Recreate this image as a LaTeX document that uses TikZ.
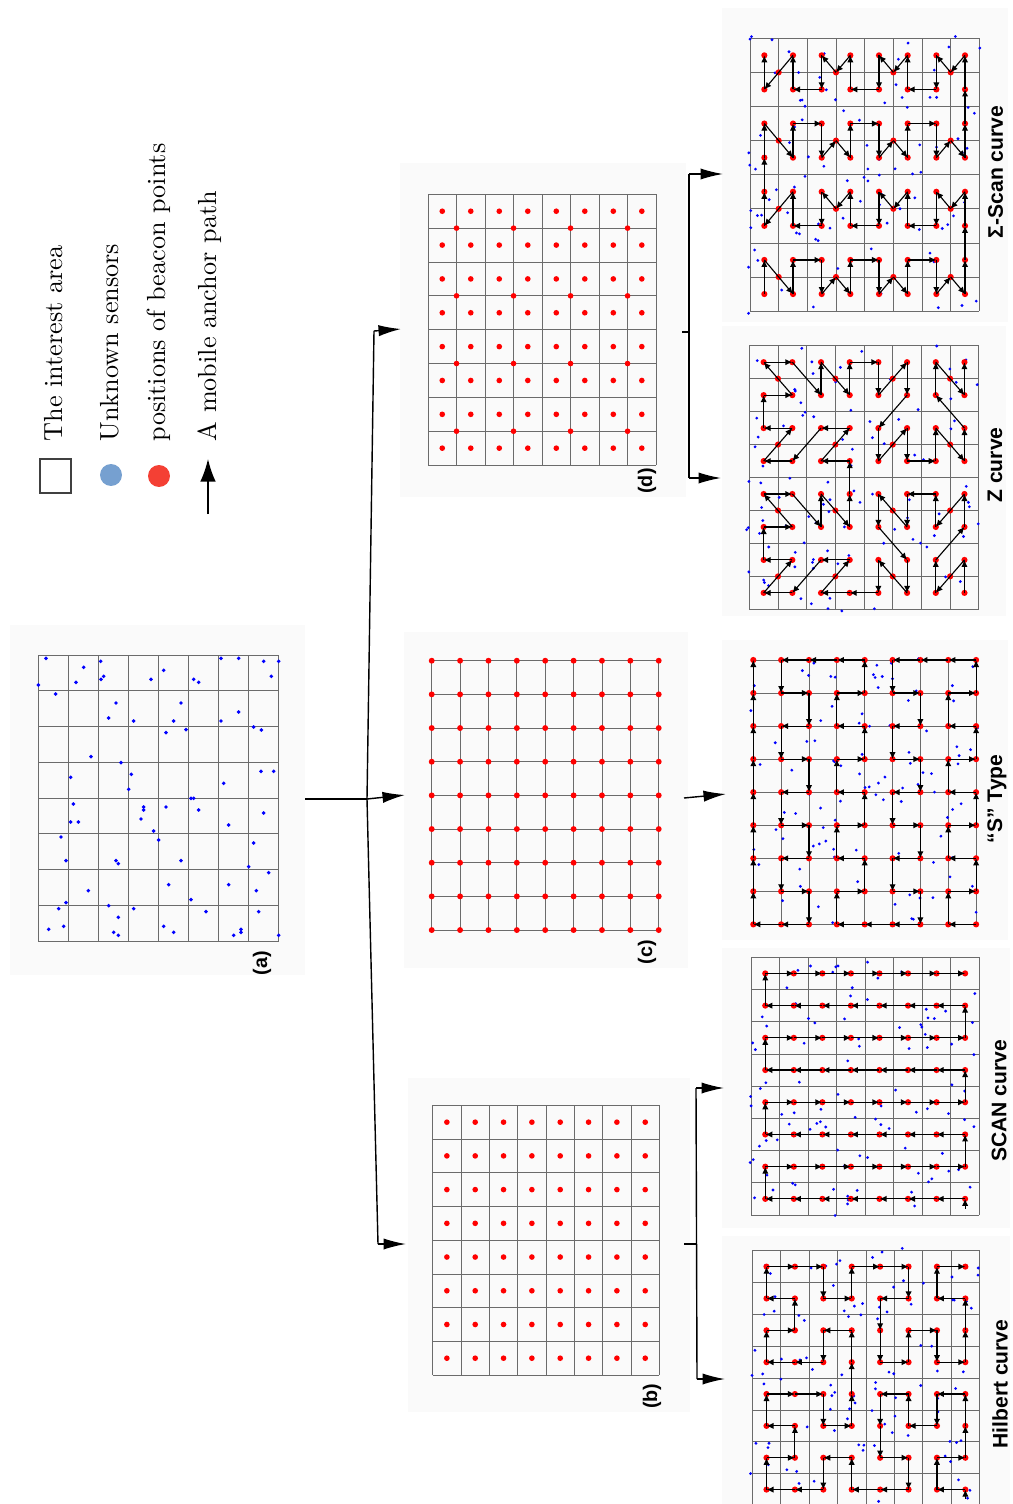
\documentclass[tikz,border=0pt]{standalone}
\usepackage{fontspec}
\newfontfamily\hv{Liberation Sans}
\newfontfamily\legfont{lmroman10-regular.otf}
\usetikzlibrary{arrows.meta}

\definecolor{sensorblue}{RGB}{0,0,255}
\definecolor{beaconred}{RGB}{255,0,0}
\definecolor{legblue}{RGB}{118,160,208}
\definecolor{legred}{RGB}{244,64,52}

\tikzset{
  pnl/.style n args={4}{shift={(#1,#2)},x=#3,y=#4},
  gridline/.style={black!58,line width=0.55pt},
  panelbg/.style={fill=black!2},
  sensor/.style={fill=sensorblue},
  beacon/.style={fill=beaconred},
  hop/.style={-{Latex[length=5pt,width=4.5pt]},line width=0.8pt},
  wire/.style={line width=1pt},
  feed/.style={wire,-{Latex[length=16pt,width=8pt]}},
  legtext/.style={rotate=90,anchor=base west,inner sep=0pt,font=\legfont\fontsize{18.6}{20}\selectfont},
  curvelbl/.style={rotate=90,inner sep=0pt,font=\hv\bfseries\fontsize{15}{18}\selectfont},
  sublbl/.style={rotate=90,inner sep=0pt,font=\hv\bfseries\fontsize{14}{16}\selectfont},
}

% 8x8 cells of the interest area
\newcommand{\cells}{\foreach \i in {0,...,8} {\draw[gridline] (\i,0) -- (\i,8); \draw[gridline] (0,\i) -- (8,\i);}}
\newcommand{\centerdots}[1]{\foreach \i in {0,...,7} \foreach \j in {0,...,7} \fill[beacon] (\i+0.5,\j+0.5) circle (#1);}
\newcommand{\crossdots}[1]{\foreach \i in {1,3,5,7} \foreach \j in {1,3,5,7} \fill[beacon] (\i,\j) circle (#1);}
\newcommand{\scatter}[1]{\foreach \k in {1,...,#1} \fill[sensor] ({-0.1+8.2*rnd},{-0.1+8.2*rnd}) circle (1.1pt);}
% anchor path: start x, start y, offset, list of stops
\newcommand{\hops}[4]{\foreach \px/\py [remember=\px as \qx (initially #1), remember=\py as \qy (initially #2)] in {#4}
  {\draw[hop] (\qx+#3,\qy+#3) -- (\px+#3,\py+#3);}}

\begin{document}
\begin{tikzpicture}[x=0.025cm,y=-0.025cm]
\useasboundingbox (0,0) rectangle (1012,1504);
\fill[white] (0,0) rectangle (1012,1504);

% faint panel backgrounds
\fill[panelbg] (10,625) rectangle (305,975);
\fill[panelbg] (400,163) rectangle (686,497);
\fill[panelbg] (404,632) rectangle (688,968);
\fill[panelbg] (408,1078) rectangle (690,1412);
\fill[panelbg] (722,8) rectangle (1008,322);
\fill[panelbg] (722,326) rectangle (1006,616);
\fill[panelbg] (722,640) rectangle (1008,940);
\fill[panelbg] (722,948) rectangle (1010,1228);
\fill[panelbg] (722,1236) rectangle (1010,1504);

% legend
\draw[line width=0.8pt,black!75] (40,459) rectangle (71,493);
\fill[legblue] (111,475) circle (7.8pt);
\fill[legred] (159,476) circle (7.8pt);
\coordinate (legTail) at (208,514);
\coordinate (legTip) at (208,459);
\draw[wire,-{Latex[length=16pt,width=11pt]}] (legTail) -- (legTip);
\node[legtext] (legArea) at (62.7,441.5) {The interest area};
\node[legtext] (legSensor) at (118.3,441.5) {Unknown sensors};
\node[legtext] (legBeacon) at (165,441.5) {positions of beacon points};
\node[legtext] (legPath) at (216,441.5) {A mobile anchor path};

% (a) sensors in the interest area
\begin{scope}[pnl={38.3}{655}{0.75125cm}{-0.89375cm}]
  \cells
\end{scope}
\foreach \sx/\sy in {46/658.3, 38.3/685, 55.7/694, 76/682.3, 83.7/667.3, 100.7/661.3, 101/679.3,
  103.7/676.3, 116/703, 108.7/718, 133.7/721, 151/679.3, 163.7/670.3, 181/703, 173.7/721, 166/732.7,
  186/729.7, 193.7/679.3, 198.7/682.3, 221/658.3, 238.7/658.3, 263.7/661.3, 278.7/661.3, 271.3/676.3,
  238.7/712, 221/721, 253.7/727, 261.3/730, 91/756.7, 121/762.7, 131.3/774.3, 70.7/777.3, 128.7/789.3,
  261/771.3, 273.7/771.3, 223.7/783.3, 73.3/804, 70.7/822, 78.3/822, 143.7/807, 143.7/810, 141/819,
  166/807, 191/798.3, 193.7/798.3, 198.7/810, 263.7/813, 228.7/825, 153.7/831, 61/837, 158.7/840,
  253.7/843, 66/860.7, 116/860.7, 118.3/863.7, 181/860.7, 248.7/866.7, 268.7/872.7, 88.3/890.7,
  168.7/884.7, 228.7/884.7, 256.3/890.7, 66/902.7, 58.7/908.7, 108.7/905.7, 133.7/908.7, 191/899.7,
  206/911.7, 258.7/911.7, 48.7/929.3, 63.7/926.3, 118.3/917.3, 113.7/932.3, 118.3/935.3, 163.7/926.3,
  173.7/932.3, 241/929.3, 241/932.3, 233.7/935.3, 278.7/935.3}
  \fill[sensor] (\sx,\sy) circle (1.4pt);
\node[sublbl] (lblA) at (262,963) {(a)};

% (d) centres plus crossings
\begin{scope}[pnl={428}{194.3}{0.7125cm}{-0.846cm}]
  \cells
  \centerdots{2pt}
  \crossdots{2pt}
\end{scope}
\node[sublbl] (lblD) at (647,481) {(d)};

% (c) crossings
\begin{scope}[pnl={431.7}{660.7}{0.70925cm}{-0.8415cm}]
  \cells
  \foreach \i in {0,...,8} \foreach \j in {0,...,8} \fill[beacon] (\i,\j) circle (2.1pt);
\end{scope}
\node[sublbl] (lblC) at (647,952) {(c)};

% (b) centres
\begin{scope}[pnl={432.7}{1105.3}{0.70825cm}{-0.84275cm}]
  \cells
  \centerdots{2pt}
\end{scope}
\node[sublbl] (lblB) at (652,1396) {(b)};

% (a) -> (b), (c), (d)
\coordinate (aOut) at (305,799);
\coordinate (jn) at (367,799);
\coordinate (jnTop) at (374,331);
\coordinate (jnBot) at (378,1244);
\coordinate (dIn) at (401,329);
\coordinate (cIn) at (405,795);
\coordinate (bIn) at (406,1244);
\draw[wire] (aOut) -- (jn);
\draw[wire] (jnTop) -- (jn) -- (jnBot);
\draw[feed] (jnTop) -- (dIn);
\draw[feed] (jn) -- (cIn);
\draw[feed] (jnBot) -- (bIn);

% (d) -> Sigma-Scan, Z
\coordinate (dOut) at (682,332);
\coordinate (dFork) at (689,332);
\coordinate (dForkTop) at (689,174);
\coordinate (dForkBot) at (689,478);
\coordinate (sigmaIn) at (723,174);
\coordinate (zIn) at (721,478);
\draw[wire] (dOut) -- (dFork);
\draw[wire] (dForkTop) -- (dForkBot);
\draw[feed] (dForkTop) -- (sigmaIn);
\draw[feed] (dForkBot) -- (zIn);

% (c) -> S type
\coordinate (cOut) at (684,798);
\coordinate (sIn) at (726,794);
\draw[feed] (cOut) -- (sIn);

% (b) -> SCAN, Hilbert
\coordinate (bOut) at (684,1244);
\coordinate (bFork) at (696,1244);
\coordinate (bForkTop) at (696,1088);
\coordinate (bForkBot) at (697,1379);
\coordinate (scanIn) at (724,1088);
\coordinate (hilbIn) at (725,1379);
\draw[wire] (bOut) -- (bFork);
\draw[wire] (bForkTop) -- (bForkBot);
\draw[feed] (bForkTop) -- (scanIn);
\draw[feed] (bForkBot) -- (hilbIn);

% Sigma-Scan curve
\begin{scope}[pnl={750}{38.3}{0.7165cm}{-0.85225cm}]
  \cells
  \pgfmathsetseed{11}
  \scatter{95}
  \centerdots{2.2pt}
  \crossdots{2.2pt}
  \hops{0.5}{7.5}{0}{0.5/6.5, 1.5/7.5, 1.5/6.5, 2.5/6.5, 2.5/7.5, 3/7, 3.5/7.5, 3.5/6.5, 4.5/6.5,
    4.5/7.5, 5/7, 5.5/7.5, 5.5/6.5, 6.5/6.5, 6.5/7.5, 7/7, 7.5/7.5, 7.5/6.5, 7.5/5.5, 7.5/4.5, 7/5,
    6.5/4.5, 6.5/5.5, 5.5/5.5, 5.5/4.5, 5/5, 4.5/4.5, 4.5/5.5, 3.5/5.5, 3.5/4.5, 3/5, 2.5/4.5,
    2.5/5.5, 1.5/5.5, 1.5/4.5, 0.5/5.5, 0.5/4.5, 0.5/3.5, 0.5/2.5, 1.5/3.5, 1.5/2.5, 2.5/2.5,
    2.5/3.5, 3/3, 3.5/3.5, 3.5/2.5, 4.5/2.5, 4.5/3.5, 5/3, 5.5/3.5, 5.5/2.5, 6.5/2.5, 6.5/3.5, 7/3,
    7.5/3.5, 7.5/2.5, 7.5/1.5, 7.5/0.5, 7/1, 6.5/0.5, 6.5/1.5, 5.5/1.5, 5.5/0.5, 5/1, 4.5/0.5,
    4.5/1.5, 3.5/1.5, 3.5/0.5, 3/1, 2.5/0.5, 2.5/1.5, 1.5/1.5, 1.5/0.5, 0.5/1.5, 0.5/0.5}
\end{scope}
\node[curvelbl] (lblSigma) at (995.5,172) {Σ-Scan curve};

% Z curve
\begin{scope}[pnl={749.3}{345.7}{0.717cm}{-0.82375cm}]
  \cells
  \pgfmathsetseed{23}
  \scatter{95}
  \centerdots{2.2pt}
  \crossdots{2.2pt}
  \hops{7}{7}{0.5}{7/6, 6/7, 6/6, 7/5, 7/4, 6/5, 6/4, 5/4, 5/5, 4/4, 4/5, 5/6, 5/7, 4/6, 4/7, 3/7,
    2/7, 3/6, 2/6, 1/7, 0/7, 1/6, 0/6, 0/5, 1/5, 0/4, 1/4, 2/5, 2/4, 3/5, 3/4, 3/3, 2/3, 3/2, 2/2,
    1/3, 0/3, 1/2, 0/2, 0/1, 1/1, 0/0, 1/0, 2/1, 2/0, 3/1, 3/0, 4/0, 4/1, 5/0, 5/1, 4/2, 4/3, 5/2,
    5/3, 6/3, 6/2, 7/3, 7/2, 6/1, 6/0, 7/1, 7/0}
\end{scope}
\node[curvelbl] (lblZ) at (995,465) {Z curve};

% "S" type
\begin{scope}[pnl={753.3}{660}{0.696cm}{-0.826cm}]
  \cells
  \pgfmathsetseed{37}
  \scatter{95}
  \foreach \i in {0,...,8} \foreach \j in {0,...,8} \fill[beacon] (\i,\j) circle (2.2pt);
  \hops{8}{8}{0}{7/8, 7/7, 8/7, 8/6, 7/6, 7/5, 8/5, 8/4, 7/4, 7/3, 8/3, 8/2, 7/2, 7/1, 8/1, 8/0,
    7/0, 6/0, 5/0, 5/1, 6/1, 6/2, 5/2, 5/3, 6/3, 6/4, 5/4, 5/5, 6/5, 6/6, 5/6, 5/7, 6/7, 6/8, 5/8,
    4/8, 3/8, 3/7, 4/7, 4/6, 3/6, 3/5, 4/5, 4/4, 3/4, 3/3, 4/3, 4/2, 3/2, 3/1, 4/1, 4/0, 3/0, 2/0,
    1/0, 1/1, 2/1, 2/2, 1/2, 1/3, 2/3, 2/4, 1/4, 1/5, 2/5, 2/6, 1/6, 1/7, 2/7, 2/8, 1/8, 0/8, 0/7,
    0/6, 0/5, 0/4, 0/3, 0/2, 0/1, 0/0}
\end{scope}
\node[curvelbl] (lblS) at (997,799) {“S” Type};

% SCAN curve
\begin{scope}[pnl={751}{957.3}{0.7135cm}{-0.805cm}]
  \cells
  \pgfmathsetseed{41}
  \scatter{95}
  \centerdots{2.2pt}
  \draw[hop] (7.5,7.8) -- (7.5,7.5);
  \foreach \r in {7,5,3,1} {
    \foreach \c in {1,...,7} \draw[hop] (\c+0.5,\r+0.5) -- (\c-0.5,\r+0.5);
    \draw[hop] (0.5,\r+0.5) -- (0.5,\r-0.5);
    \foreach \c in {0,...,6} \draw[hop] (\c+0.5,\r-0.5) -- (\c+1.5,\r-0.5);
  }
  \foreach \r in {6,4,2} \draw[hop] (7.5,\r+0.5) -- (7.5,\r-0.5);
\end{scope}
\node[curvelbl] (lblScan) at (999,1101) {SCAN curve};

% Hilbert curve
\begin{scope}[pnl={752.3}{1250.7}{0.71cm}{-0.796cm}]
  \cells
  \pgfmathsetseed{53}
  \scatter{95}
  \centerdots{2.2pt}
  \draw[hop] (7.5,7.8) -- (7.5,7.5);
  \hops{7}{7}{0.5}{6/7, 6/6, 7/6, 7/5, 7/4, 6/4, 6/5, 5/5, 5/4, 4/4, 4/5, 4/6, 5/6, 5/7, 4/7, 3/7,
    3/6, 2/6, 2/7, 1/7, 0/7, 0/6, 1/6, 1/5, 0/5, 0/4, 1/4, 2/4, 2/5, 3/5, 3/4, 3/3, 3/2, 2/2, 2/3,
    1/3, 0/3, 0/2, 1/2, 1/1, 0/1, 0/0, 1/0, 2/0, 2/1, 3/1, 3/0, 4/0, 5/0, 5/1, 4/1, 4/2, 4/3, 5/3,
    5/2, 6/2, 6/3, 7/3, 7/2, 7/1, 6/1, 6/0, 7/0}
\end{scope}
\node[curvelbl] (lblHilbert) at (1000,1384) {Hilbert curve};

\end{tikzpicture}
\end{document}
